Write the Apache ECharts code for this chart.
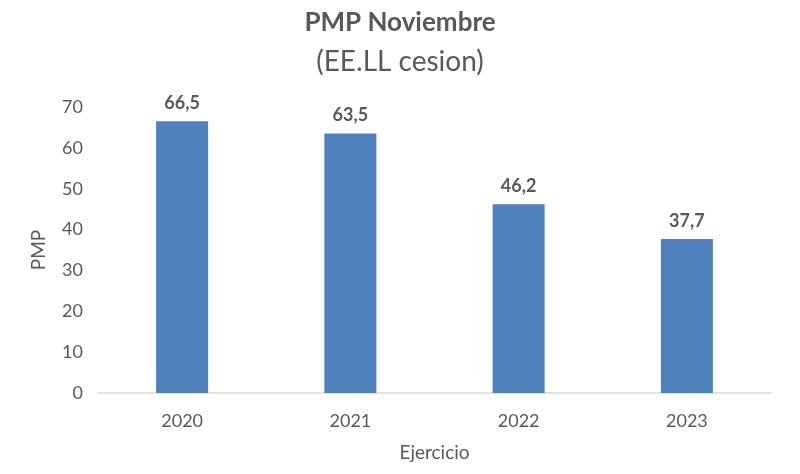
<!DOCTYPE html>
<html>
<head>
  <meta charset="UTF-8">
  <title>PMP Noviembre</title>
  <script src="https://cdn.jsdelivr.net/npm/echarts@6/dist/echarts.min.js"></script>
  <style>
    html, body { margin: 0; padding: 0; background: #fff; }
    #c1 { width: 800px; height: 474px; }
  </style>
</head>
<body>
<div id="c1"></div>
<script>
  // datos
  var years = ['2020', '2021', '2022', '2023'];
  var pmp = [66.5, 63.5, 46.2, 37.7];
  var yTicks = [0, 10, 20, 30, 40, 50, 60, 70];

  var gray = '#595959';
  var font = 'Lato, "Open Sans", sans-serif';

  var chartDom = document.getElementById('c1');
  var myChart = echarts.init(chartDom);
  var option;

  option = {
    textStyle: { fontFamily: font },
    title: [
      {
        text: 'PMP Noviembre',
        left: 'center',
        top: 5,
        textStyle: { fontFamily: font, fontSize: 26, fontWeight: 'bold', color: gray }
      },
      {
        text: '(EE.LL cesion)',
        left: 'center',
        top: 43,
        textStyle: { fontFamily: font, fontSize: 28, fontWeight: 'normal', color: gray }
      }
    ],
    grid: {
      top: 107,
      left: 98,
      right: 29,
      bottom: 81
    },
    xAxis: {
      type: 'category',
      data: years,
      name: 'Ejercicio',
      nameLocation: 'middle',
      nameGap: 50,
      nameTextStyle: { fontFamily: font, fontSize: 19, color: gray },
      axisLine: { lineStyle: { color: '#d9d9d9', width: 1.5 } },
      axisTick: { show: false },
      axisLabel: { fontFamily: font, fontSize: 18, color: gray, margin: 19 }
    },
    yAxis: {
      type: 'value',
      min: yTicks[0],
      max: yTicks[yTicks.length - 1],
      interval: 10,
      name: 'PMP',
      nameLocation: 'middle',
      nameGap: 50,
      nameTextStyle: { fontFamily: font, fontSize: 19, color: gray },
      axisLine: { show: false },
      axisTick: { show: false },
      splitLine: { show: false },
      axisLabel: { fontFamily: font, fontSize: 18, color: gray, margin: 15 }
    },
    series: [
      {
        type: 'bar',
        data: pmp,
        barWidth: 52,
        itemStyle: { color: '#4f81bd' },
        label: {
          show: true,
          position: 'top',
          distance: 9,
          fontFamily: font,
          fontSize: 18,
          fontWeight: 'bold',
          color: gray,
          formatter: function (p) { return p.value.toFixed(1).replace('.', ','); }
        }
      }
    ]
  };

  option && myChart.setOption(option);
</script>
</body>
</html>
